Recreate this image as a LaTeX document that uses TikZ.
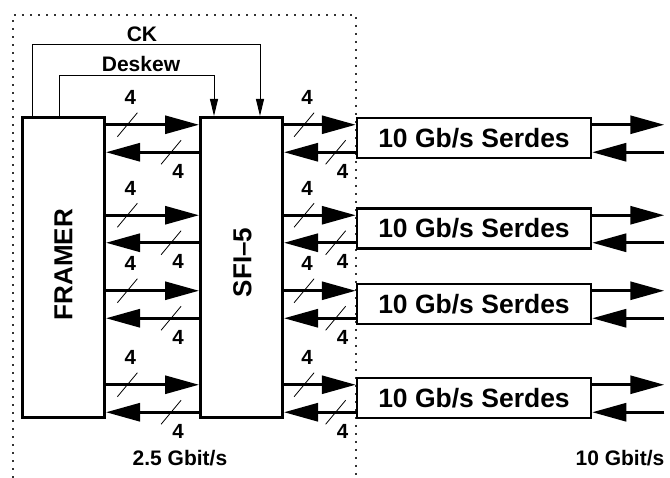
\documentclass[tikz,border=0pt]{standalone}
\usepackage{fontspec}
\setmainfont{Liberation Sans}
\usetikzlibrary{arrows.meta,positioning,calc}

\begin{document}
\begin{tikzpicture}[x=1pt, y=-1pt,
    blk/.style={draw, line width=3pt, minimum width=82pt,
      minimum height=300pt, inner sep=0pt},
    serdes/.style={draw, line width=2.5pt, minimum width=234pt,
      minimum height=40pt, inner sep=0pt,
      font=\fontsize{26.5}{30}\selectfont\bfseries},
    vtxt/.style={rotate=90, font=\fontsize{26}{30}\selectfont\bfseries},
    big/.style={line width=3pt, -{Triangle[length=34pt, width=18pt]}},
    ctl/.style={line width=1pt, -{Triangle[length=17pt, width=8pt]}},
    bus/.style={line width=0.8pt},
    num/.style={font=\fontsize{20.5}{22}\selectfont\bfseries},
    note/.style={font=\fontsize{21}{24}\selectfont\bfseries},
    frame/.style={line width=1.2pt, black!80, dash pattern=on 2pt off 6pt},
    fwdbus/.pic={\draw[bus] (-10,12) -- (10,-12);
      \node[num] (-n) at (3,-27) {4};},
    bwdbus/.pic={\draw[bus] (-10,12) -- (10,-12);
      \node[num] (-n) at (7,19) {4};},
  ]
  \useasboundingbox (0,0) rectangle (670,478);

  % --- 2.5G side (dotted region) ---
  \draw[frame] (13,478) |- (356,15) -- (356,478);

  \node[blk] (framer) at (63.5,267.5) {};
  \node[vtxt] (framertxt) at ([yshift=3pt]framer.center) {FRAMER};
  \node[blk] (sfi) at (241.5,267.5) {};
  \node[vtxt] (sfitxt) at ([xshift=1pt,yshift=5pt]sfi.center) {SFI--5};

  % clock and deskew from the framer
  \draw[ctl] ([xshift=11pt]framer.north west) -- ++(0,-71)
    -| ([xshift=61pt]sfi.north west);
  \node[note] (ck) at (142,34) {CK};
  \draw[ctl] ([xshift=38pt]framer.north west) -- ++(0,-40)
    -| ([xshift=15pt]sfi.north west);
  \node[note] (desk) at (141,64) {Deskew};

  % --- serdes column ---
  \foreach \i/\y in {1/138, 2/228.5, 3/304, 4/398} {
    \node[serdes] (s\i) at (474,\y) {10 Gb/s Serdes};
    \coordinate (f\i) at ([yshift=-8pt]s\i.north west);
    \coordinate (b\i) at ([yshift=7pt]s\i.south west);
    \coordinate (o\i) at ([xshift=72pt]s\i.east |- f\i);
    \coordinate (r\i) at ([xshift=72pt]s\i.east |- b\i);
  }

  % --- 4-bit lanes ---
  \foreach \i in {1,...,4} {
    \draw[big] (framer.east |- f\i) -- (sfi.west |- f\i)
      coordinate[pos=0.23] (lf\i);
    \draw[big] (sfi.west |- b\i) -- (framer.east |- b\i)
      coordinate[pos=0.30] (lb\i);
    \draw[big] (sfi.east |- f\i) -- (f\i) coordinate[pos=0.28] (rf\i);
    \draw[big] (b\i) -- (sfi.east |- b\i) coordinate[pos=0.28] (rb\i);
    \pic (mlf\i) at (lf\i) {fwdbus};
    \pic (mlb\i) at (lb\i) {bwdbus};
    \pic (mrf\i) at (rf\i) {fwdbus};
    \pic (mrb\i) at (rb\i) {bwdbus};
    % line side
    \draw[big] (s\i.east |- f\i) -- (o\i);
    \draw[big] (r\i) -- (s\i.east |- b\i);
  }

  \node[note] (lo) at (180,458) {2.5 Gbit/s};
  \node[note] (hi) at (620,458) {10 Gbit/s};
\end{tikzpicture}
\end{document}
